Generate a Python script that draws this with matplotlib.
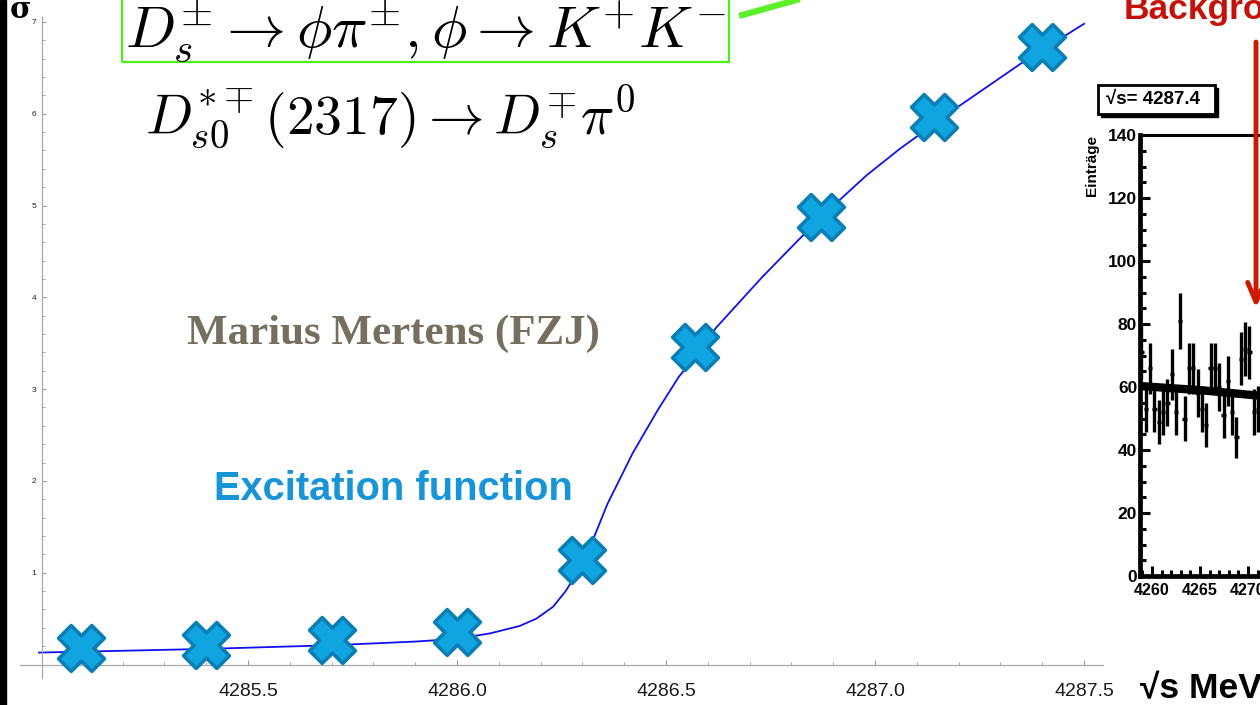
import numpy as np
import matplotlib
matplotlib.use("Agg")
import matplotlib.pyplot as plt
from matplotlib.patches import Rectangle, FancyArrowPatch
from matplotlib.lines import Line2D
from matplotlib.path import Path
from matplotlib.ticker import FixedLocator, MultipleLocator

plt.rcParams["mathtext.fontset"] = "cm"
plt.rcParams["font.family"] = ["Liberation Sans", "DejaVu Sans"]

# measured cross section vs. centre-of-mass energy
sqrt_s = [4285.10, 4285.40, 4285.70, 4286.00, 4286.30, 4286.57, 4286.87, 4287.14, 4287.40]
sigma = [0.18, 0.21, 0.27, 0.35, 1.14, 3.46, 4.88, 5.96, 6.73]

# fitted excitation function
fit_sqrt_s = [4285.00, 4285.10, 4285.40, 4285.70, 4285.90, 4286.00, 4286.08, 4286.15,
              4286.19, 4286.23, 4286.26, 4286.29, 4286.32, 4286.36, 4286.42, 4286.48,
              4286.53, 4286.57, 4286.62, 4286.68, 4286.73, 4286.82, 4286.92, 4286.98,
              4287.06, 4287.20, 4287.35, 4287.50]
fit_sigma = [0.13, 0.14, 0.17, 0.21, 0.25, 0.28, 0.34, 0.42,
             0.50, 0.63, 0.80, 1.02, 1.30, 1.75, 2.30, 2.77,
             3.13, 3.36, 3.67, 3.97, 4.22, 4.64, 5.08, 5.33,
             5.62, 6.08, 6.55, 6.98]

x_ticks = [4285.5, 4286.0, 4286.5, 4287.0, 4287.5]
y_ticks = [1, 2, 3, 4, 5, 6, 7]

# invariant mass spectrum at sqrt(s) = 4287.4
hist_start = 4258.90
hist_step = 0.45
hist_counts = [71, 53, 66, 53, 49, 52, 55, 64, 52, 81, 50, 66, 66, 58,
               53, 48, 66, 66, 60, 51, 62, 52, 44, 69, 72, 71, 52, 53]
bkg_x = [4258.75, 4265.0, 4271.3]
bkg_y = [60.3, 59.0, 57.2]

W, H = 1260, 705


def fx(px):
    return px / W


def fy(py):
    return 1 - py / H


def cross_marker(w=0.19, reach=0.5):
    pts = [(-w, reach), (w, reach), (w, w), (reach, w), (reach, -w), (w, -w),
           (w, -reach), (-w, -reach), (-w, -w), (-reach, -w), (-reach, w), (-w, w)]
    c = np.cos(np.pi / 4)
    rot = [(x * c - y * c, x * c + y * c) for x, y in pts]
    return Path(rot + [rot[0]], closed=True)


fig = plt.figure(figsize=(12.6, 7.05), dpi=100)
ax = fig.add_axes([0, 0, 1, 1])
ax.set_xlim(4284.9067, 4287.921)
ax.set_ylim(-0.441, 7.239)

ax.plot(fit_sqrt_s, fit_sigma, color="#1010f0", lw=1.3, zorder=2)
ax.plot(sqrt_s, sigma, linestyle="none", marker=cross_marker(), markersize=33,
        markerfacecolor="#10a4e0", markeredgecolor="#0a7fb4", markeredgewidth=2.6,
        zorder=3)

for side in ["top", "right"]:
    ax.spines[side].set_visible(False)
ax.spines["left"].set_position(("data", 4285.007))
ax.spines["bottom"].set_position(("data", 0))
ax.spines["left"].set_bounds(-0.15, 7.05)
ax.spines["bottom"].set_bounds(4284.955, 4287.545)
for side in ["left", "bottom"]:
    ax.spines[side].set_color("#a8a8a8")
    ax.spines[side].set_linewidth(0.9)

ax.xaxis.set_major_locator(FixedLocator(x_ticks))
ax.xaxis.set_minor_locator(FixedLocator(np.round(np.arange(4285.1, 4287.55, 0.1), 2)))
ax.set_xticklabels([f"{t:.1f}" for t in x_ticks])
ax.yaxis.set_major_locator(FixedLocator(y_ticks))
ax.yaxis.set_minor_locator(FixedLocator(np.round(np.arange(0.2, 7.05, 0.2), 2)))
ax.set_yticklabels([str(t) for t in y_ticks])
ax.tick_params(axis="x", which="major", direction="in", length=3.5, width=0.8,
               color="#999999", labelsize=14, labelcolor="#1a1a1a", pad=13)
ax.tick_params(axis="x", which="minor", direction="in", length=2, width=0.6, color="#999999")
ax.tick_params(axis="y", which="major", direction="in", length=3, width=0.8,
               color="#999999", labelsize=6, labelcolor="#222222", pad=4)
ax.tick_params(axis="y", which="minor", direction="in", length=2, width=0.6, color="#999999")

# left edge of the slide
fig.patches.append(Rectangle((0, 0), fx(6), 1, transform=fig.transFigure,
                             color="black", zorder=5))

fig.text(fx(10), fy(18), "σ", fontsize=21, fontweight="bold", family="DejaVu Serif",
         va="baseline", ha="left")

# decay channel box
fig.patches.append(Rectangle((fx(122), fy(62)), fx(607), 90 / H, transform=fig.transFigure,
                             fill=False, edgecolor="#4ef01a", lw=1.6))
fig.lines.append(Line2D([fx(739), fx(850)], [fy(16), fy(-15)], transform=fig.transFigure,
                        color="#5cf02a", lw=4.5, solid_capstyle="butt"))
fig.text(fx(125), fy(47), r"$D_s^{\pm} \to \phi\pi^{\pm}, \phi \to K^{+}K^{-}$",
         fontsize=42.5, va="baseline", ha="left")
fig.text(fx(145), fy(134), r"$D_{s0}^{*\mp}(2317) \to D_s^{\mp}\pi^0$",
         fontsize=40, va="baseline", ha="left")

fig.text(fx(187), fy(344), "Marius Mertens (FZJ)", fontsize=31, fontweight="bold",
         family="Liberation Serif", color="#766f5e", va="baseline", ha="left")
fig.text(fx(214), fy(500), "Excitation function", fontsize=28.7, fontweight="bold",
         color="#1895d8", va="baseline", ha="left")
fig.text(fx(1140), fy(698), "√s MeV", fontsize=25.5, fontweight="bold",
         color="black", va="baseline", ha="left")
fig.text(fx(1124), fy(19), "Background", fontsize=25.5, fontweight="bold",
         color="#c41208", va="baseline", ha="left")

# spectrum inset
ax2 = fig.add_axes([fx(1140), fy(576), 400 / W, 441 / H])
ax2.set_xlim(4258.75, 4258.75 + 400 / 9.6)
ax2.set_ylim(0, 140)
centres = hist_start + hist_step * np.arange(len(hist_counts))
ax2.errorbar(centres, hist_counts, yerr=np.sqrt(hist_counts), xerr=hist_step / 2,
             fmt="none", ecolor="black", elinewidth=2.4, capsize=0)
ax2.plot(bkg_x, bkg_y, color="black", lw=6)
for side in ax2.spines.values():
    side.set_linewidth(2.2)
ax2.spines["left"].set_linewidth(3.4)
ax2.spines["bottom"].set_linewidth(3.4)
ax2.xaxis.set_major_locator(MultipleLocator(5))
ax2.xaxis.set_minor_locator(MultipleLocator(1))
ax2.yaxis.set_major_locator(MultipleLocator(20))
ax2.yaxis.set_minor_locator(MultipleLocator(5))
ax2.tick_params(which="both", direction="in", top=False, right=False, width=2.2)
ax2.tick_params(which="major", length=7)
ax2.tick_params(which="minor", length=4)
ax2.tick_params(axis="y", labelsize=12.5, pad=2)
ax2.tick_params(axis="x", labelsize=11.5, pad=5)
for lab in ax2.get_xticklabels() + ax2.get_yticklabels():
    lab.set_fontweight("heavy")
fig.text(fx(1092), fy(165), "Einträge", fontsize=11, fontweight="bold",
         rotation=90, va="center", ha="center")

# energy label box with shadow
fig.patches.append(Rectangle((fx(1101), fy(117)), fx(117), 29 / H, transform=fig.transFigure,
                             facecolor="black", edgecolor="black", zorder=6))
fig.patches.append(Rectangle((fx(1098), fy(114)), fx(117), 29 / H, transform=fig.transFigure,
                             facecolor="white", edgecolor="black", lw=2, zorder=7))
fig.text(fx(1106), fy(100), "√s= 4287.4", fontsize=13.5, fontweight="bold",
         va="center", ha="left", zorder=8)

fig.patches.append(FancyArrowPatch((fx(1256), fy(42)), (fx(1256), fy(308)),
                                   transform=fig.transFigure,
                                   arrowstyle="->,head_length=14,head_width=6",
                                   mutation_scale=1, lw=3.5, color="#cc1a00",
                                   shrinkA=0, shrinkB=0, zorder=9))

fig.savefig("out.png", dpi=100)
